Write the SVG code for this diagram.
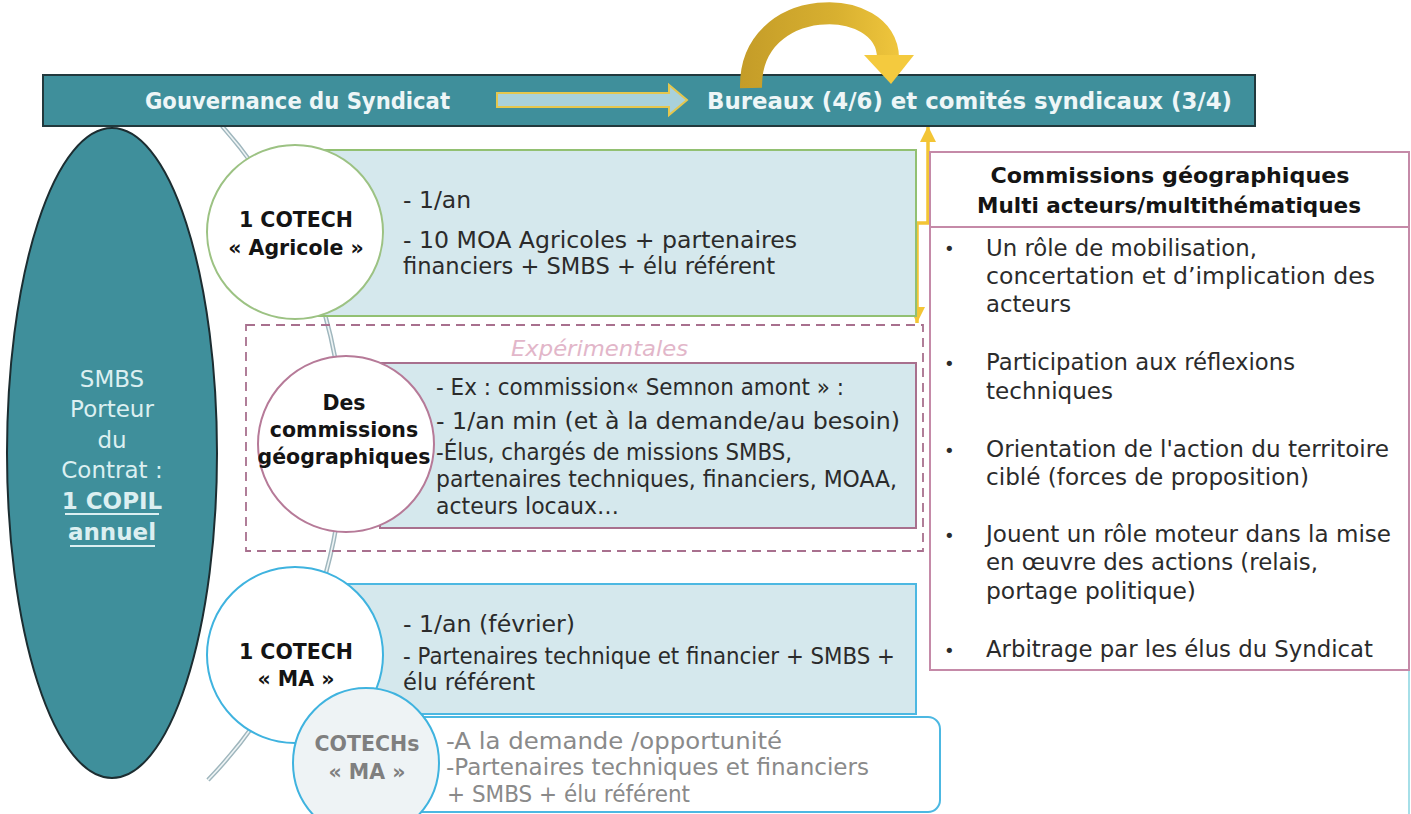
<svg xmlns="http://www.w3.org/2000/svg" width="1411" height="814" viewBox="0 0 1411 814">
<defs>
  <linearGradient id="gold" gradientUnits="userSpaceOnUse" x1="740" y1="0" x2="915" y2="0">
    <stop offset="0" stop-color="#c49c28"/>
    <stop offset="0.55" stop-color="#d8b030"/>
    <stop offset="1" stop-color="#f5cb40"/>
  </linearGradient>
  <marker id="yarrow" viewBox="0 0 16 16" refX="16" refY="8" markerWidth="16" markerHeight="16" markerUnits="userSpaceOnUse" orient="auto-start-reverse">
    <path d="M0,0 L16,8 L0,16 z" fill="#f3c535"/>
  </marker>
  <style>
    .teal { fill:#3f8f9b; }
    .body { font-family:"DejaVu Sans","Liberation Sans",sans-serif; font-size:23.5px; fill:#2b2b2b; }
    .gray { font-family:"DejaVu Sans","Liberation Sans",sans-serif; font-size:23px; fill:#8a8a8a; }
    .title { font-family:"DejaVu Sans","Liberation Sans",sans-serif; font-size:20.5px; font-weight:bold; fill:#141414; text-anchor:middle; }
    .gtitle { font-family:"DejaVu Sans","Liberation Sans",sans-serif; font-size:20.5px; font-weight:bold; fill:#7f7f7f; text-anchor:middle; }
    .head { font-family:"DejaVu Sans","Liberation Sans",sans-serif; font-size:22px; font-weight:bold; fill:#141414; text-anchor:middle; }
    .ban { font-family:"DejaVu Sans","Liberation Sans",sans-serif; font-size:22.5px; font-weight:bold; fill:#eef6f7; }
    .smbs { font-family:"DejaVu Sans","Liberation Sans",sans-serif; font-size:23px; fill:#dcefF1; text-anchor:middle; }
    .lbox { fill:#d5e8ed; stroke-width:2; }
    .circ { fill:#ffffff; stroke-width:2; }
    .bul { font-family:"DejaVu Sans","Liberation Sans",sans-serif; font-size:18px; fill:#2b2b2b; }
  </style>
</defs>
<rect width="1411" height="814" fill="#ffffff"/>

<!-- connectors -->
<g id="connectors">
  <path d="M 222 126 A 482 482 0 0 1 208 780" fill="none" stroke="#9fb6bd" stroke-width="4.5"/>
  <path d="M 222 126 A 482 482 0 0 1 208 780" fill="none" stroke="#eef4f5" stroke-width="1.6"/>
  <path d="M 928 126 L 928 223 L 917 223 L 917 323" fill="none" stroke="#f3c535" stroke-width="3.5" marker-start="url(#yarrow)" marker-end="url(#yarrow)"/>
  <line x1="1409" y1="670" x2="1409" y2="814" stroke="#a6dfe8" stroke-width="2"/>
</g>

<!-- banner -->
<g id="banner">
  <rect x="43" y="75" width="1212" height="51" class="teal" stroke="#22393d" stroke-width="2"/>
  <text x="145" y="109" class="ban" textLength="305" lengthAdjust="spacingAndGlyphs">Gouvernance du Syndicat</text>
  <path d="M 497 93 L 669 93 L 669 85 L 687 100 L 669 115 L 669 107 L 497 107 Z" fill="#a9d1db" stroke="#e5c74e" stroke-width="2"/>
  <text x="707" y="109" class="ban" textLength="525" lengthAdjust="spacingAndGlyphs">Bureaux (4/6) et comités syndicaux (3/4)</text>
</g>

<!-- gold curved arrow -->
<g id="gold-arrow">
  <path d="M 751 88 C 749 -6, 888 -6, 888 58" fill="none" stroke="url(#gold)" stroke-width="22"/>
  <polygon points="864,55 914,55 891,84" fill="#f4ca3e"/>
</g>

<!-- SMBS ellipse -->
<g id="smbs">
  <ellipse cx="112" cy="453" rx="105" ry="325" class="teal" stroke="#1c2d31" stroke-width="2"/>
  <text x="112" y="387" class="smbs">SMBS</text>
  <text x="112" y="417" class="smbs">Porteur</text>
  <text x="112" y="448" class="smbs">du</text>
  <text x="112" y="478" class="smbs">Contrat :</text>
  <text x="112" y="509" class="smbs" font-weight="bold" font-size="22">1 COPIL</text>
  <line x1="65" y1="514" x2="159" y2="514" stroke="#dcefF1" stroke-width="2"/>
  <text x="112" y="540" class="smbs" font-weight="bold" font-size="22">annuel</text>
  <line x1="70" y1="546" x2="155" y2="546" stroke="#dcefF1" stroke-width="2"/>
</g>

<!-- COTECH Agricole -->
<g id="cotech-agricole">
  <rect x="318" y="150" width="598" height="166" class="lbox" stroke="#92c072"/>
  <ellipse cx="295" cy="232" rx="88" ry="87" class="circ" stroke="#9cc283"/>
  <text x="296" y="227" class="title">1 COTECH</text>
  <text x="296" y="255" class="title">« Agricole »</text>
  <text x="403" y="208" class="body">- 1/an</text>
  <text x="403" y="248" class="body" textLength="394" lengthAdjust="spacingAndGlyphs">- 10 MOA Agricoles + partenaires</text>
  <text x="403" y="274" class="body" textLength="372" lengthAdjust="spacingAndGlyphs">financiers + SMBS + élu référent</text>
</g>

<!-- Expérimentales -->
<g id="experimentales">
  <rect x="246" y="325" width="677" height="226" fill="none" stroke="#a8708e" stroke-width="1.8" stroke-dasharray="9 6"/>
  <text x="511" y="356" font-family="DejaVu Sans, Liberation Sans, sans-serif" font-size="22" font-style="italic" fill="#e2b6c9" textLength="177" lengthAdjust="spacingAndGlyphs">Expérimentales</text>
</g>

<!-- commissions géographiques -->
<g id="commissions">
  <rect x="380" y="363" width="536" height="165" class="lbox" stroke="#a8708e"/>
  <ellipse cx="346" cy="444" rx="88" ry="88" class="circ" stroke="#b67a98"/>
  <text x="344" y="410" class="title">Des</text>
  <text x="344" y="437" class="title">commissions</text>
  <text x="344" y="464" class="title">géographiques</text>
  <text x="436" y="395" class="body" textLength="408" lengthAdjust="spacingAndGlyphs">- Ex : commission« Semnon amont » :</text>
  <text x="436" y="429" class="body" textLength="464" lengthAdjust="spacingAndGlyphs">- 1/an min (et à la demande/au besoin)</text>
  <text x="436" y="460" class="body" textLength="356" lengthAdjust="spacingAndGlyphs">-Élus, chargés de missions SMBS,</text>
  <text x="436" y="487" class="body" textLength="461" lengthAdjust="spacingAndGlyphs">partenaires techniques, financiers, MOAA,</text>
  <text x="436" y="514" class="body" textLength="183" lengthAdjust="spacingAndGlyphs">acteurs locaux…</text>
</g>

<!-- COTECH MA -->
<g id="cotech-ma">
  <rect x="330" y="584" width="586" height="130" class="lbox" stroke="#4cb8e2"/>
  <ellipse cx="295" cy="655" rx="88" ry="88" class="circ" stroke="#3fb3df"/>
  <text x="296" y="659" class="title">1 COTECH</text>
  <text x="296" y="686" class="title">« MA »</text>
  <text x="403" y="632" class="body" textLength="172" lengthAdjust="spacingAndGlyphs">- 1/an (février)</text>
  <text x="403" y="664" class="body" textLength="492" lengthAdjust="spacingAndGlyphs">- Partenaires technique et financier + SMBS +</text>
  <text x="403" y="690" class="body" textLength="132" lengthAdjust="spacingAndGlyphs">élu référent</text>
</g>

<!-- COTECHs MA -->
<g id="cotechs-ma">
  <rect x="380" y="717" width="560" height="95" rx="12" ry="12" fill="#ffffff" stroke="#4cb8e2" stroke-width="2"/>
  <ellipse cx="366" cy="763" rx="73" ry="75" fill="#eef3f5" stroke="#3fb3df" stroke-width="2"/>
  <text x="367" y="751" class="gtitle">COTECHs</text>
  <text x="367" y="779" class="gtitle">« MA »</text>
  <text x="446" y="749" class="gray" textLength="336" lengthAdjust="spacingAndGlyphs">-A la demande /opportunité</text>
  <text x="446" y="775" class="gray" textLength="423" lengthAdjust="spacingAndGlyphs">-Partenaires techniques et financiers</text>
  <text x="447" y="802" class="gray" textLength="243" lengthAdjust="spacingAndGlyphs">+ SMBS + élu référent</text>
</g>

<!-- right panel -->
<g id="panel">
  <rect x="930" y="152" width="479" height="518" fill="#ffffff" stroke="#c58aa8" stroke-width="2"/>
  <line x1="930" y1="227" x2="1409" y2="227" stroke="#c58aa8" stroke-width="2"/>
  <text x="1170" y="183" class="head" textLength="359" lengthAdjust="spacingAndGlyphs">Commissions géographiques</text>
  <text x="1169" y="213" class="head" textLength="384" lengthAdjust="spacingAndGlyphs">Multi acteurs/multithématiques</text>
  <text x="944" y="255" class="bul">•</text>
  <text x="986" y="256" class="body" textLength="271" lengthAdjust="spacingAndGlyphs">Un rôle de mobilisation,</text>
  <text x="986" y="284" class="body" textLength="389" lengthAdjust="spacingAndGlyphs">concertation et d’implication des</text>
  <text x="986" y="312" class="body" textLength="85" lengthAdjust="spacingAndGlyphs">acteurs</text>
  <text x="944" y="370" class="bul">•</text>
  <text x="986" y="370" class="body" textLength="309" lengthAdjust="spacingAndGlyphs">Participation aux réflexions</text>
  <text x="986" y="399" class="body" textLength="127" lengthAdjust="spacingAndGlyphs">techniques</text>
  <text x="944" y="457" class="bul">•</text>
  <text x="986" y="457" class="body" textLength="403" lengthAdjust="spacingAndGlyphs">Orientation de l'action du territoire</text>
  <text x="986" y="485" class="body" textLength="323" lengthAdjust="spacingAndGlyphs">ciblé (forces de proposition)</text>
  <text x="944" y="542" class="bul">•</text>
  <text x="986" y="542" class="body" textLength="405" lengthAdjust="spacingAndGlyphs">Jouent un rôle moteur dans la mise</text>
  <text x="986" y="570" class="body" textLength="332" lengthAdjust="spacingAndGlyphs">en œuvre des actions (relais,</text>
  <text x="986" y="599" class="body" textLength="210" lengthAdjust="spacingAndGlyphs">portage politique)</text>
  <text x="944" y="657" class="bul">•</text>
  <text x="986" y="657" class="body" textLength="387" lengthAdjust="spacingAndGlyphs">Arbitrage par les élus du Syndicat</text>
</g>
</svg>
